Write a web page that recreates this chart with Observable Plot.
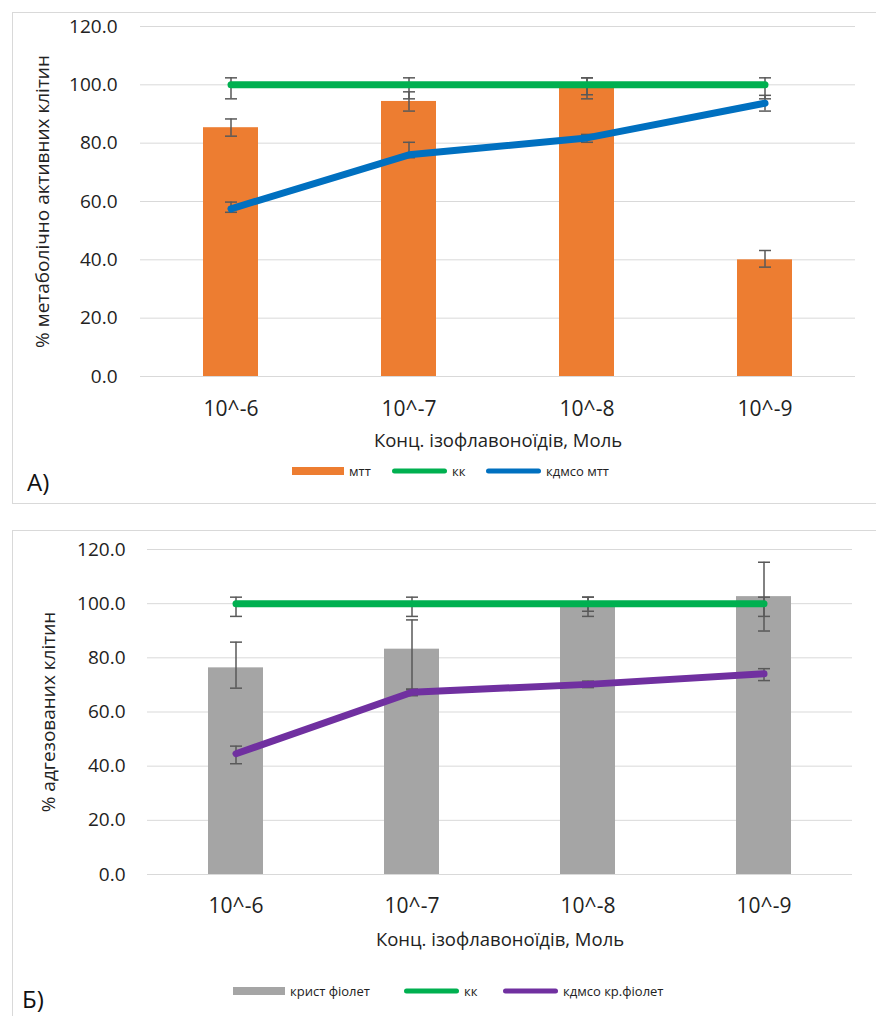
<!DOCTYPE html>
<html><head><meta charset="utf-8">
<script src="https://cdn.jsdelivr.net/npm/d3@7"></script>
<script src="https://cdn.jsdelivr.net/npm/@observablehq/plot@0.6"></script>
<style>
body{margin:0;width:876px;height:1016px;overflow:hidden;background:#fff;font-family:"Open Sans",sans-serif;}
#root{position:relative;width:876px;height:1016px;overflow:hidden;}
.panel{position:absolute;border:1px solid #d9d9d9;box-sizing:border-box;}
.chart{position:absolute;left:0;}
.lt{position:absolute;font-size:13px;color:#222;line-height:16px;white-space:nowrap;transform:translateY(-50%);}
.sw{position:absolute;}
.ln{position:absolute;height:5px;border-radius:3px;transform:translateY(-50%);}
.tag{position:absolute;font-size:24px;color:#111;line-height:28px;}
</style></head>
<body><div id="root">
<div class="panel" style="left:12px;top:12px;width:900px;height:492px;"></div>
<div class="panel" style="left:12px;top:530px;width:900px;height:520px;"></div>
<div id="c1" class="chart" style="top:0px;"></div>
<div id="c2" class="chart" style="top:500px;"></div>
<div class="tag" style="left:27px;top:468px;">A)</div>
<div class="tag" style="left:22px;top:985px;">Б)</div>
<div id="leg1"></div>
<div id="leg2"></div>
</div>
<script>
const categories = ["10^-6", "10^-7", "10^-8", "10^-9"];
const yTicks = [0, 20, 40, 60, 80, 100, 120];
const xTitle = "Конц. ізофлавоноїдів, Моль";

// Panel A
const yTitleA = "% метаболічно активних клітин";
const mtt = [85.3, 94.3, 99.5, 40.0];
const mttLow = [82.4, 91.0, 96.6, 37.5];
const mttHigh = [88.3, 97.6, 102.4, 43.2];
const kkA = [100, 100, 100, 100];
const kkALow = [95.2, 95.2, 95.2, 95.2];
const kkAHigh = [102.4, 102.4, 102.4, 102.4];
const dmsoMtt = [57.5, 76.0, 81.8, 93.7];
const dmsoMttLow = [56.3, 75.0, 80.3, 91.0];
const dmsoMttHigh = [59.8, 80.3, 83.0, 96.4];

// Panel Б
const yTitleB = "% адгезованих клітин";
const krist = [76.3, 83.2, 99.5, 102.6];
const kristLow = [68.8, 68.2, 97.2, 89.9];
const kristHigh = [85.8, 94.0, 102.4, 115.3];
const kkB = [100, 100, 100, 100];
const kkBLow = [95.3, 95.3, 95.3, 95.3];
const kkBHigh = [102.4, 102.4, 102.4, 102.4];
const dmsoKr = [44.6, 67.3, 70.2, 74.1];
const dmsoKrLow = [40.9, 66.0, 69.0, 71.6];
const dmsoKrHigh = [47.4, 68.5, 71.4, 76.0];

const legendA = [["мтт", "#ED7D31", "rect"], ["кк", "#00B050", "line"], ["кдмсо мтт", "#0070C0", "line"]];
const legendB = [["крист фіолет", "#A5A5A5", "rect"], ["кк", "#00B050", "line"], ["кдмсо кр.фіолет", "#7030A0", "line"]];

const capSymbol = {draw(ctx, size) { const r = Math.sqrt(size / Math.PI); ctx.moveTo(-r, 0); ctx.lineTo(r, 0); }};
function errMarks(lo, hi) {
  const s = {stroke: "#595959", strokeWidth: 1.5};
  return [
    Plot.ruleX(categories, {x: categories, y1: lo, y2: hi, ...s}),
    Plot.dot(categories, {x: categories, y: lo, symbol: capSymbol, r: 6, fill: "none", ...s}),
    Plot.dot(categories, {x: categories, y: hi, symbol: capSymbol, r: 6, fill: "none", ...s})
  ];
}

function chart(o) {
  return Plot.plot({
    width: 876, height: o.height,
    marginLeft: o.ml, marginRight: o.mr, marginTop: o.mt, marginBottom: o.mb,
    style: {background: "none", fontFamily: "Open Sans, sans-serif", color: "#222"},
    x: {type: "band", domain: categories, paddingInner: 0.69, paddingOuter: 0.345, axis: null},
    y: {domain: [0, 120], axis: null},
    marks: [
      Plot.ruleY(yTicks, {y: d => d, stroke: "#d9d9d9", strokeWidth: 1}),
      Plot.axisY({ticks: yTicks, tickSize: 0, tickPadding: o.tp, tickFormat: d => d.toFixed(1), fontSize: 19, label: null}),
      Plot.axisX({tickSize: 0, tickPadding: o.xtp, fontSize: 21, label: null}),
      Plot.barY(categories, {x: categories, y: o.bars, fill: o.barColor}),
      ...errMarks(o.barLow, o.barHigh),
      ...errMarks(o.kkLow, o.kkHigh),
      Plot.line(categories, {x: categories, y: o.kk, stroke: "#00B050", strokeWidth: 7, strokeLinecap: "round", strokeLinejoin: "round"}),
      ...errMarks(o.lineLow, o.lineHigh),
      Plot.line(categories, {x: categories, y: o.line, stroke: o.lineColor, strokeWidth: 7, strokeLinecap: "round", strokeLinejoin: "round"}),
      Plot.text([xTitle], {text: d => d, frameAnchor: "bottom", dy: o.xdy, fontSize: 18.5, lineAnchor: "middle", textAnchor: "middle"}),
      Plot.text([o.yTitle], {text: d => d, frameAnchor: "left", dx: o.ydx, rotate: -90, fontSize: 19, lineAnchor: "middle", textAnchor: "middle"})
    ]
  });
}

document.getElementById("c1").append(chart({
  height: 462, ml: 140, mr: 21, mt: 26, mb: 86, tp: 23, xtp: 25, xdy: 65, ydx: -98,
  bars: mtt, barColor: "#ED7D31", barLow: mttLow, barHigh: mttHigh,
  kk: kkA, kkLow: kkALow, kkHigh: kkAHigh,
  line: dmsoMtt, lineColor: "#0070C0", lineLow: dmsoMttLow, lineHigh: dmsoMttHigh, yTitle: yTitleA
}));
document.getElementById("c2").append(chart({
  height: 470, ml: 147, mr: 24, mt: 49, mb: 96, tp: 22, xtp: 24, xdy: 66, ydx: -99,
  bars: krist, barColor: "#A5A5A5", barLow: kristLow, barHigh: kristHigh,
  kk: kkB, kkLow: kkBLow, kkHigh: kkBHigh,
  line: dmsoKr, lineColor: "#7030A0", lineLow: dmsoKrLow, lineHigh: dmsoKrHigh, yTitle: yTitleB
}));

function legend(id, items, xs, cy) {
  const el = document.getElementById(id);
  items.forEach(([label, color, kind], i) => {
    const x = xs[i];
    const sw = document.createElement("div");
    if (kind === "rect") {
      sw.className = "sw";
      Object.assign(sw.style, {left: x + "px", top: (cy - 4) + "px", width: "52px", height: "8px", background: color});
    } else {
      sw.className = "ln";
      Object.assign(sw.style, {left: x + "px", top: cy + "px", width: "55px", background: color});
    }
    el.append(sw);
    const t = document.createElement("div");
    t.className = "lt";
    t.textContent = label;
    Object.assign(t.style, {left: (x + (kind === "rect" ? 57 : 60)) + "px", top: cy + "px"});
    el.append(t);
  });
}
legend("leg1", legendA, [292, 392, 486], 471);
legend("leg2", legendB, [233, 404, 503], 991);
</script>
</body></html>
